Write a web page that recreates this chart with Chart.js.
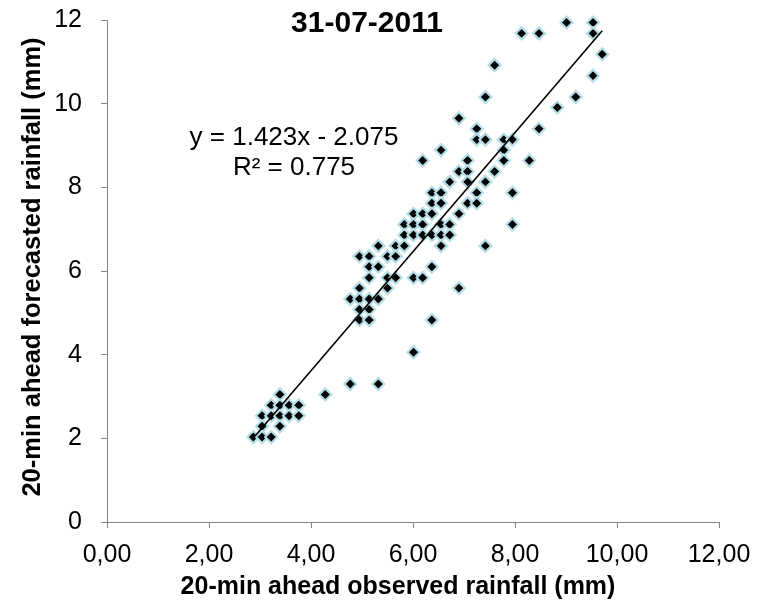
<!DOCTYPE html>
<html>
<head>
<meta charset="utf-8">
<script src="https://cdn.jsdelivr.net/npm/chart.js@4"></script>
<style>
  html, body { margin: 0; padding: 0; background: #ffffff; }
  canvas { display: block; }
</style>
</head>
<body>
<canvas id="chart" width="758" height="606"></canvas>
<script>
// Labels
const chartTitle = '31-07-2011';
const xAxisTitle = '20-min ahead observed rainfall (mm)';
const yAxisTitle = '20-min ahead forecasted rainfall (mm)';

// Tick values of both axes
const xTickValues = [0, 2, 4, 6, 8, 10, 12];
const yTickValues = [0, 2, 4, 6, 8, 10, 12];

// Observed (x) and forecasted (y) 20-minute rainfall, mm
const observed = [
  9.01, 9.53,
  8.13, 8.47, 9.53,
  9.71,
  7.60,
  9.53,
  7.42, 9.19,
  8.83,
  6.90,
  7.25, 8.47,
  7.25, 7.42, 7.78, 7.95,
  6.55, 7.78,
  6.19, 7.07, 7.78, 8.28,
  6.90, 7.07, 7.60,
  6.72, 7.07, 7.42,
  6.37, 6.55, 7.25, 7.95,
  6.37, 6.55, 7.07, 7.25,
  6.01, 6.19, 6.37, 6.90,
  5.83, 6.01, 6.19, 6.55, 6.72, 7.95,
  5.83, 6.01, 6.19, 6.37, 6.55, 6.72,
  5.32, 5.66, 5.83, 6.55, 7.42,
  4.95, 5.14, 5.50, 5.66,
  5.14, 5.32, 6.37,
  5.14, 5.50, 5.66, 6.01, 6.19,
  4.95, 5.50, 6.90,
  4.77, 4.95, 5.14, 5.32,
  4.95, 5.14,
  4.95, 5.14, 6.37,
  6.01,
  4.77, 5.32,
  3.39, 4.28,
  3.22, 3.39, 3.57, 3.76,
  3.04, 3.22, 3.39, 3.57, 3.76,
  3.04, 3.39,
  2.87, 3.04, 3.22
];
const forecasted = [
  11.94, 11.94,
  11.68, 11.68, 11.68,
  11.18,
  10.92,
  10.67,
  10.16, 10.16,
  9.91,
  9.65,
  9.40, 9.40,
  9.14, 9.14, 9.14, 9.14,
  8.89, 8.89,
  8.64, 8.64, 8.64, 8.64,
  8.38, 8.38, 8.38,
  8.13, 8.13, 8.13,
  7.87, 7.87, 7.87, 7.87,
  7.62, 7.62, 7.62, 7.62,
  7.37, 7.37, 7.37, 7.37,
  7.11, 7.11, 7.11, 7.11, 7.11, 7.11,
  6.86, 6.86, 6.86, 6.86, 6.86, 6.86,
  6.60, 6.60, 6.60, 6.60, 6.60,
  6.35, 6.35, 6.35, 6.35,
  6.10, 6.10, 6.10,
  5.84, 5.84, 5.84, 5.84, 5.84,
  5.59, 5.59, 5.59,
  5.33, 5.33, 5.33, 5.33,
  5.08, 5.08,
  4.83, 4.83, 4.83,
  4.06,
  3.30, 3.30,
  3.05, 3.05,
  2.79, 2.79, 2.79, 2.79,
  2.54, 2.54, 2.54, 2.54, 2.54,
  2.29, 2.29,
  2.03, 2.03, 2.03
];

// Linear trendline coefficients and fit quality
const trendSlope = 1.423;
const trendIntercept = -2.075;
const rSquared = 0.775;

const FONT = '"Liberation Sans", Arial, Helvetica, sans-serif';
const AXIS_GREY = '#868686';

const scatterPoints = observed.map((x, i) => ({ x: x, y: forecasted[i] }));
const xMin = Math.min(...observed);
const xMax = Math.max(...observed);
const trendPoints = [
  { x: xMin, y: trendSlope * xMin + trendIntercept },
  { x: xMax, y: trendSlope * xMax + trendIntercept }
];
const equationText = 'y = ' + trendSlope.toFixed(3) + 'x ' +
  (trendIntercept < 0 ? '- ' : '+ ') + Math.abs(trendIntercept).toFixed(3);
const rSquaredText = 'R\u00B2 = ' + rSquared.toFixed(3);

// Title, trendline equation and axis titles
const textPlugin = {
  id: 'chartTexts',
  afterDraw(chart) {
    const ctx = chart.ctx;
    ctx.save();
    ctx.fillStyle = '#000000';
    ctx.textAlign = 'center';
    ctx.textBaseline = 'middle';

    ctx.font = 'bold 30px ' + FONT;
    ctx.fillText(chartTitle, 367, 24);

    ctx.font = '26px ' + FONT;
    ctx.fillText(equationText, 294, 138);
    ctx.fillText(rSquaredText, 294, 168);

    ctx.font = 'bold 25px ' + FONT;
    ctx.fillText(xAxisTitle, 398, 587);

    ctx.font = 'bold 25.5px ' + FONT;
    ctx.translate(33, 267);
    ctx.rotate(-Math.PI / 2);
    ctx.fillText(yAxisTitle, 0, 0);
    ctx.restore();
  }
};

// Keep the plot area fixed: no extra room for overhanging tick labels
function fixBox(size, key) {
  return (scale) => {
    scale[key] = size;
    scale.paddingTop = 0;
    scale.paddingBottom = 0;
    scale.paddingLeft = 0;
    scale.paddingRight = 0;
  };
}

new Chart(document.getElementById('chart'), {
  type: 'scatter',
  data: {
    datasets: [
      {
        label: 'Trend',
        type: 'line',
        data: trendPoints,
        borderColor: '#000000',
        borderWidth: 1.6,
        pointRadius: 0,
        fill: false,
        order: 0
      },
      {
        label: 'Rainfall',
        data: scatterPoints,
        pointStyle: 'rectRot',
        pointRadius: 6,
        pointBorderWidth: 2.2,
        backgroundColor: '#000000',
        borderColor: '#b4dde6',
        clip: false,
        order: 1
      }
    ]
  },
  options: {
    responsive: false,
    animation: false,
    events: [],
    layout: { padding: { top: 20, right: 39, left: 0, bottom: 0 } },
    plugins: {
      legend: { display: false },
      tooltip: { enabled: false },
      title: { display: false }
    },
    scales: {
      x: {
        type: 'linear',
        min: 0,
        max: 12,
        afterBuildTicks: (scale) => { scale.ticks = xTickValues.map(v => ({ value: v })); },
        afterFit: fixBox(84, 'height'),
        ticks: {
          callback: (v) => v.toFixed(2).replace('.', ','),
          font: { family: FONT, size: 25 },
          color: '#000000',
          padding: 12,
          maxRotation: 0,
          autoSkip: false
        },
        grid: { display: true, drawOnChartArea: false, drawTicks: true, tickLength: 6, color: AXIS_GREY, lineWidth: 1 },
        border: { display: true, color: AXIS_GREY, width: 1 }
      },
      y: {
        type: 'linear',
        min: 0,
        max: 12,
        afterBuildTicks: (scale) => { scale.ticks = yTickValues.map(v => ({ value: v })); },
        afterFit: fixBox(107, 'width'),
        ticks: {
          callback: (v) => String(v),
          font: { family: FONT, size: 25 },
          color: '#000000',
          padding: 19,
          autoSkip: false
        },
        grid: { display: true, drawOnChartArea: false, drawTicks: true, tickLength: 6, color: AXIS_GREY, lineWidth: 1 },
        border: { display: true, color: AXIS_GREY, width: 1 }
      }
    }
  },
  plugins: [textPlugin]
});
</script>
</body>
</html>
